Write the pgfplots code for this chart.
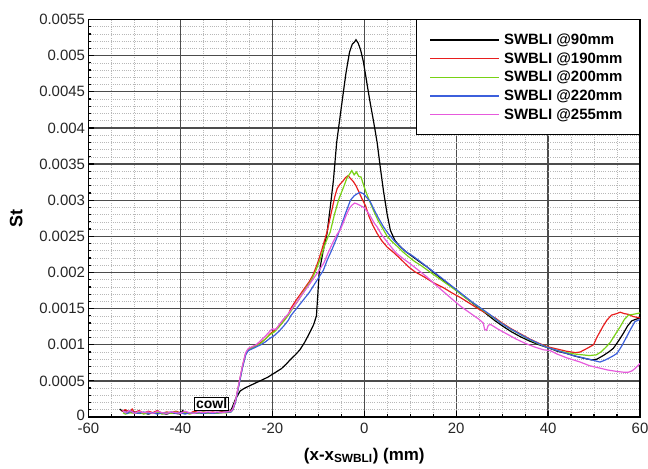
\documentclass[border=0pt]{standalone}
\usepackage{pgfplots}
\pgfplotsset{compat=1.18}
\usepackage{fontspec}
\setmainfont{Liberation Sans}
\definecolor{cred}{RGB}{232,30,30}
\definecolor{cgreen}{RGB}{120,210,20}
\definecolor{cblue}{RGB}{60,95,220}
\definecolor{cpink}{RGB}{230,90,220}
\begin{document}
\begin{tikzpicture}
\useasboundingbox (0,0) rectangle (648bp,469bp);
\begin{axis}[
  at={(88.5bp,52bp)}, anchor=south west,
  width=551.5bp, height=397.5bp, scale only axis,
  xmin=-60, xmax=60, ymin=0, ymax=0.0055,
  xtick={-60,-40,-20,0,20,40,60},
  xticklabels={-60,-40,-20,0,20,40,60},
  ytick={0,0.0005,0.001,0.0015,0.002,0.0025,0.003,0.0035,0.004,0.0045,0.005,0.0055},
  yticklabels={\raisebox{-3bp}[0pt][0pt]{0},0.0005,0.001,0.0015,0.002,0.0025,0.003,0.0035,0.004,0.0045,0.005,0.0055},
  minor x tick num=3, minor y tick num=4,
  scaled y ticks=false,
  tick pos=left, tick align=inside,
  major tick length=6bp, minor tick length=3bp,
  every tick/.style={black, line width=1.2bp},
  grid=both,
  major grid style={black!70, line width=1.3bp},
  minor grid style={black!28, dash pattern=on 1bp off 1.2bp, line width=0.6bp},
  axis line style={black, line width=1.7bp},
  ticklabel style={font=\fontsize{15}{16}\selectfont, text=black!85},
  xticklabel style={yshift=-3bp},
  xlabel={(x-x\textsubscript{SWBLI}) (mm)},
  ylabel={St},
  xlabel style={font=\bfseries\fontsize{17}{19}\selectfont, yshift=-7bp},
  ylabel style={font=\bfseries\fontsize{18}{20}\selectfont, yshift=10bp},
  legend cell align=left,
  legend style={at={(1,1)}, anchor=north east, draw=black, line width=1bp, fill=white,
    font=\bfseries\fontsize{15}{17}\selectfont, inner xsep=13bp, inner ysep=12bp,
    row sep=2.5bp, nodes={inner ysep=2bp, inner xsep=4bp}},
  legend image code/.code={\draw[#1, line width=1.3bp] (0bp,0bp) -- (69bp,0bp);},
  every axis plot/.append style={line width=1.2bp},
]
\addplot[black] coordinates {
(-53.2,0.00011)(-52.6,0.00008)(-52,0.00009)(-51,0.00006)(-50,0.00007)(-49,0.00005)(-48,0.00006)(-47,0.00004)(-46,0.00006)(-45,0.00005)(-44,0.00005)(-43,0.00004)(-42,0.00006)(-41,0.00005)(-40,0.00004)(-39.5,0.00009)(-39,0.00005)(-38,0.00006)(-37,0.00005)(-36,0.00006)(-35,0.00005)(-34,0.00006)(-33,0.00005)(-32,0.00006)(-31,0.00007)(-30,0.00006)(-29.2,0.00008)
(-28.8,0.00012)(-28,0.00025)(-27,0.00036)(-26,0.00040)(-25,0.00043)(-24,0.00046)(-23,0.00049)(-22,0.00052)(-21,0.00055)(-20,0.00059)(-19,0.00063)(-18,0.00067)(-17,0.00073)(-16,0.00080)(-15,0.00086)(-14,0.00093)(-13,0.00103)(-12,0.00115)(-11,0.00128)(-10.4,0.00140)(-10.1,0.00170)(-9.8,0.00200)(-9,0.00228)(-8.1,0.00254)(-7.4,0.00290)(-6.7,0.00328)(-6,0.00380)(-5,0.00428)(-4,0.00475)(-3.2,0.00505)(-2.6,0.00516)(-2.1,0.00519)(-1.8,0.00522)(-1.3,0.00517)(-0.8,0.00508)(-0.2,0.00492)(0.5,0.00465)(1.2,0.00438)(2,0.00410)(2.8,0.00380)(3.5,0.00345)(4.2,0.00312)(5,0.00280)(5.7,0.00258)(6.7,0.00244)(7.8,0.00236)(9,0.00229)(10.5,0.00222)(12,0.00215)(13.6,0.00208)(15.5,0.00198)(17.5,0.00188)(19.5,0.00178)(20.9,0.00171)(22.5,0.00163)(24.5,0.00153)(26.5,0.00143)(28.5,0.00133)(30.3,0.00125)(32,0.00118)(34,0.00111)(36,0.00105)(38,0.00100)(40.4,0.00095)(42,0.00091)(44,0.00088)(46,0.00084)(48,0.00081)(49.5,0.00079)(50.6,0.00080)(52,0.00085)(53.2,0.00090)(54.2,0.00095)(55.3,0.00105)(56.4,0.00116)(57.3,0.00126)(58.2,0.00133)(59,0.00135)(60,0.00137)
};
\addlegendentry{SWBLI @90mm}
\addplot[cred] coordinates {
(-52.8,0.00008)(-52,0.00010)(-51,0.00007)(-50.5,0.00011)(-50,0.00006)(-49,0.00009)(-48,0.00005)(-47,0.00008)(-46,0.00006)(-45,0.00009)(-44,0.00005)(-43,0.00007)(-42,0.00006)(-41,0.00008)(-40,0.00006)(-39,0.00007)(-38,0.00005)(-37,0.00008)(-36,0.00006)(-35,0.00007)(-34,0.00006)(-33,0.00007)(-32,0.00006)(-31,0.00007)(-30,0.00007)(-29,0.00008)
(-28.6,0.00010)(-28,0.00022)(-27.2,0.00048)(-26.5,0.00070)(-25.8,0.00088)(-25.2,0.00094)
(-24.5,0.00096)(-23.5,0.00099)(-22.5,0.00103)(-21.5,0.00108)(-20.5,0.00115)(-19.5,0.00120)(-18.5,0.00126)(-17.5,0.00133)(-16.5,0.00142)(-16,0.00150)(-15,0.00160)(-14,0.00169)(-13,0.00178)(-12,0.00187)(-11.2,0.00196)(-10.2,0.00212)(-9.2,0.00232)(-8.1,0.00256)(-7.2,0.00282)(-6.4,0.00305)(-5.9,0.00316)(-5.3,0.00322)(-4.7,0.00326)(-4.1,0.00331)(-3.5,0.00334)(-3,0.00330)(-2.4,0.00326)(-1.8,0.00320)(-1.2,0.00312)(-0.5,0.00302)(0.3,0.00292)(1,0.00278)(1.8,0.00266)(2.8,0.00254)(3.8,0.00244)(5,0.00235)(6.5,0.00227)(8,0.00218)(9.6,0.00208)(11,0.00201)(13,0.00194)(15,0.00186)(17.2,0.00179)(19,0.00172)(21,0.00165)(23,0.00157)(25,0.00149)(27,0.00142)(28.5,0.00137)(30,0.00130)(32,0.00122)(34,0.00115)(36,0.00108)(38,0.00102)(40,0.00097)(42,0.00094)(44,0.00091)(46,0.00089)(47,0.00090)(48.5,0.00095)(49.9,0.00100)(50.6,0.00110)(51.3,0.00118)(52,0.00126)(52.8,0.00134)(53.8,0.00141)(54.9,0.00143)(55.7,0.00145)(56.6,0.00143)(57.5,0.00142)(58.5,0.00139)(59.3,0.00138)(60,0.00137)
};
\addlegendentry{SWBLI @190mm}
\addplot[cgreen] coordinates {
(-52.5,0.00006)(-52,0.00004)(-51,0.00006)(-50,0.00005)(-49,0.00007)(-48,0.00004)(-47,0.00006)(-46,0.00005)(-45,0.00007)(-44,0.00004)(-43,0.00006)(-42,0.00005)(-41,0.00007)(-40,0.00005)(-39,0.00006)(-38,0.00004)(-37,0.00006)(-36,0.00005)(-35,0.00007)(-34,0.00005)(-33,0.00006)(-32,0.00005)(-31,0.00006)(-30,0.00006)(-29,0.00007)
(-28.6,0.00010)(-28,0.00022)(-27.2,0.00047)(-26.5,0.00069)(-25.8,0.00087)(-25.2,0.00093)
(-24.5,0.00095)(-23.5,0.00098)(-22.5,0.00102)(-21.5,0.00108)(-20.5,0.00114)(-19.5,0.00118)(-18.5,0.00125)(-17.5,0.00133)(-16.5,0.00141)(-15.5,0.00151)(-14.5,0.00160)(-13.5,0.00170)(-12.5,0.00180)(-11.5,0.00189)(-10.5,0.00203)(-9.5,0.00220)(-8.5,0.00240)(-7.4,0.00256)(-6.5,0.00280)(-5.5,0.00302)(-4.5,0.00318)(-3.8,0.00330)(-3.2,0.00336)(-2.7,0.00341)(-2.2,0.00335)(-1.7,0.00339)(-1.2,0.00333)(-0.7,0.00332)(0,0.00318)(0.7,0.00306)(1.4,0.00295)(2,0.00286)(3,0.00272)(4,0.00261)(5,0.00250)(6,0.00243)(7.2,0.00236)(8.5,0.00228)(9.6,0.00222)(11,0.00215)(12.5,0.00209)(14,0.00202)(16,0.00193)(18,0.00184)(20,0.00175)(22,0.00165)(24,0.00156)(26,0.00147)(28,0.00138)(30,0.00129)(32,0.00121)(34,0.00114)(36,0.00107)(38,0.00101)(40,0.00096)(42,0.00092)(44,0.00089)(46,0.00087)(47.5,0.00086)(49,0.00085)(50.5,0.00086)(51.5,0.00090)(52.5,0.00096)(53.5,0.00103)(54.5,0.00113)(55.7,0.00125)(56.6,0.00135)(57.5,0.00141)(58.5,0.00142)(60,0.00144)
};
\addlegendentry{SWBLI @200mm}
\addplot[cblue] coordinates {
(-52.3,0.00007)(-51.5,0.00005)(-51,0.00008)(-50,0.00006)(-49,0.00005)(-48,0.00007)(-47,0.00005)(-46,0.00006)(-45,0.00004)(-44,0.00006)(-43,0.00005)(-42,0.00007)(-41,0.00005)(-40,0.00006)(-39,0.00004)(-38,0.00006)(-37,0.00005)(-36,0.00006)(-35,0.00005)(-34,0.00006)(-33,0.00005)(-32,0.00006)(-31,0.00006)(-30,0.00007)(-29,0.00007)
(-28.6,0.00010)(-28,0.00021)(-27.2,0.00046)(-26.5,0.00068)(-25.8,0.00086)(-25.2,0.00092)
(-24.5,0.00094)(-23.5,0.00097)(-22.5,0.00100)(-21.5,0.00104)(-20.5,0.00109)(-19.5,0.00113)(-18.5,0.00119)(-17.5,0.00126)(-16.5,0.00134)(-16,0.00140)(-15,0.00148)(-14,0.00156)(-13,0.00164)(-12,0.00172)(-11,0.00182)(-10,0.00192)(-8.9,0.00203)(-8,0.00218)(-7,0.00232)(-5.9,0.00249)(-5,0.00265)(-4,0.00283)(-3,0.00300)(-2.2,0.00306)(-1.5,0.00309)(-0.9,0.00311)(-0.2,0.00309)(0.5,0.00304)(1.3,0.00298)(2.2,0.00286)(3.2,0.00274)(4.2,0.00263)(5.2,0.00254)(6.5,0.00244)(7.8,0.00236)(9,0.00229)(10.5,0.00223)(12,0.00216)(13.6,0.00208)(15.5,0.00199)(17.5,0.00189)(19.5,0.00179)(21.5,0.00169)(23.5,0.00159)(25.5,0.00150)(27.5,0.00141)(29.5,0.00131)(31.5,0.00123)(33.5,0.00116)(35.5,0.00109)(37.5,0.00103)(39.5,0.00097)(41.5,0.00093)(43.5,0.00089)(45.5,0.00085)(47.5,0.00082)(49.5,0.00079)(51.3,0.00076)(52.5,0.00079)(54,0.00084)(55,0.00088)(56,0.00098)(57.1,0.00111)(58,0.00122)(58.9,0.00132)(60,0.00135)
};
\addlegendentry{SWBLI @220mm}
\addplot[cpink] coordinates {
(-52.6,0.00009)(-52,0.00006)(-51,0.00009)(-50,0.00005)(-49,0.00008)(-48,0.00006)(-47,0.00007)(-46,0.00005)(-45,0.00008)(-44,0.00006)(-43,0.00005)(-42,0.00007)(-41,0.00006)(-40,0.00005)(-39,0.00008)(-38,0.00006)(-37,0.00005)(-36,0.00007)(-35,0.00006)(-34,0.00007)(-33,0.00006)(-32,0.00007)(-31,0.00006)(-30,0.00007)(-29,0.00008)
(-28.6,0.00011)(-28,0.00023)(-27.2,0.00049)(-26.5,0.00071)(-25.8,0.00089)(-25.2,0.00095)
(-24.5,0.00097)(-23.5,0.00100)(-22.5,0.00106)(-21.5,0.00112)(-20.5,0.00119)(-20,0.00122)(-19.2,0.00121)(-18.5,0.00128)(-17.5,0.00136)(-16.5,0.00143)(-15.5,0.00152)(-14.5,0.00160)(-13.9,0.00166)(-13,0.00174)(-12,0.00183)(-11,0.00192)(-10,0.00201)(-8.8,0.00213)(-7.8,0.00228)(-6.8,0.00242)(-5.9,0.00253)(-5.2,0.00259)(-4.5,0.00270)(-3.8,0.00281)(-3.2,0.00289)(-2.7,0.00293)(-2.1,0.00296)(-1.6,0.00295)(-1,0.00293)(-0.1,0.00290)(0.7,0.00284)(1.5,0.00276)(2.2,0.00268)(2.8,0.00263)(3.8,0.00252)(5,0.00242)(6,0.00234)(7.1,0.00226)(8.5,0.00219)(10,0.00212)(11.8,0.00203)(13.6,0.00194)(15.5,0.00183)(17.5,0.00172)(19.5,0.00161)(21,0.00153)(23,0.00144)(25,0.00135)(25.9,0.00130)(26.2,0.00121)(26.6,0.00120)(27,0.00127)(27.5,0.00128)(29,0.00122)(31,0.00115)(33,0.00108)(35,0.00102)(37,0.00097)(39,0.00093)(40.4,0.00092)(42,0.00087)(44,0.00082)(46,0.00078)(47,0.00076)(49,0.00071)(51,0.00068)(53,0.00065)(55,0.00063)(56.4,0.00062)(57.5,0.00062)(58.3,0.00064)(58.9,0.00067)(59.5,0.00071)(60,0.00074)
};
\addlegendentry{SWBLI @255mm}
\node[draw=black, fill=white, line width=0.9bp, inner sep=1.5bp, font=\bfseries\fontsize{14}{15}\selectfont] at (axis cs:-33.2,0.00018) {cowl};
\end{axis}
\end{tikzpicture}
\end{document}
